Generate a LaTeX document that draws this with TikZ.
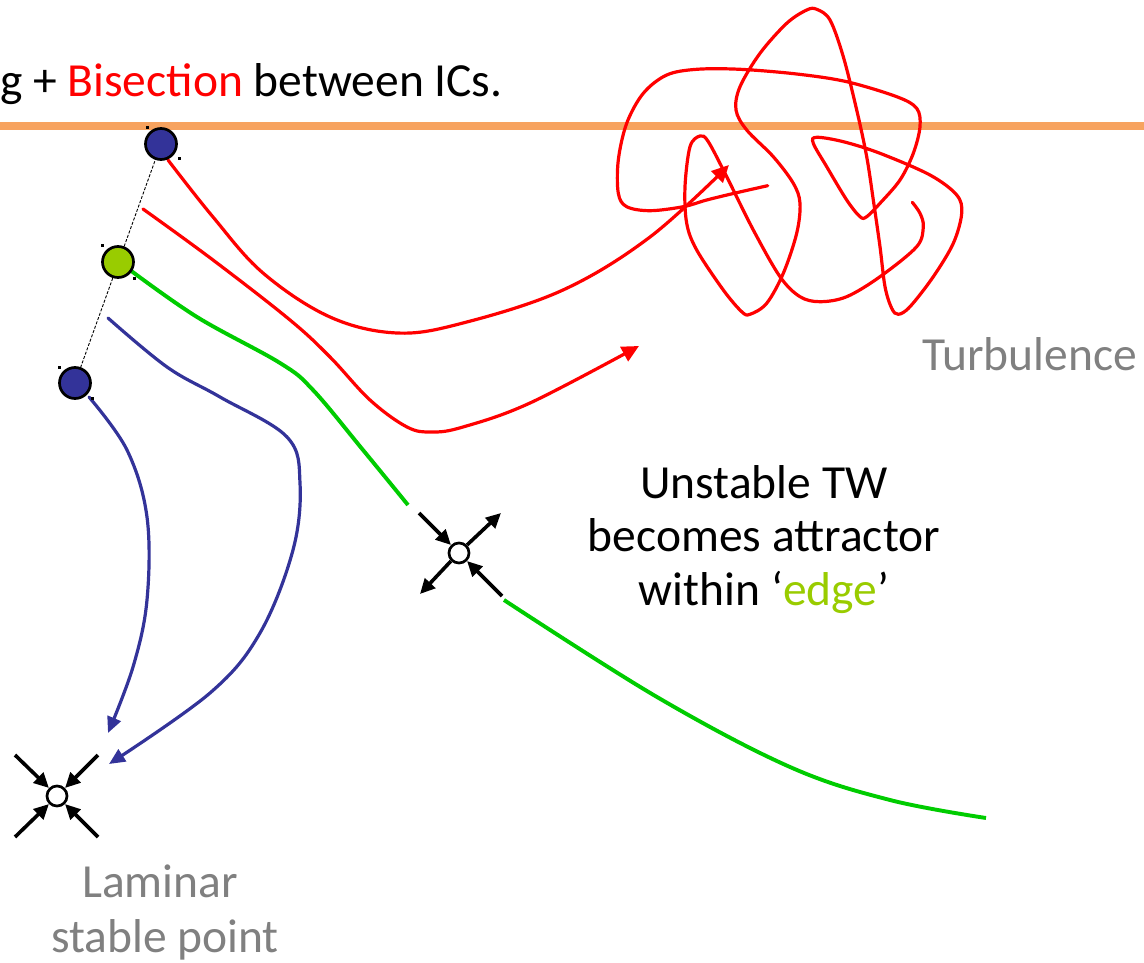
\documentclass[tikz,border=0pt]{standalone}
\usepackage{fontspec}
\setmainfont{Carlito}
\usetikzlibrary{arrows.meta}
\definecolor{icblue}{RGB}{51,51,153}
\definecolor{icgreen}{RGB}{153,204,0}
\definecolor{trajgreen}{RGB}{0,204,0}
\definecolor{orangeline}{RGB}{247,163,95}
\definecolor{labelgray}{RGB}{128,128,128}
\tikzset{
  ic/.style={circle, draw=black, line width=2.7pt, minimum size=31pt, inner sep=0pt},
  fixedpt/.style={circle, draw=black, fill=white, line width=2.7pt, minimum size=20pt, inner sep=0pt},
  traj/.style={line width=3.2pt, line cap=round},
  redtraj/.style={traj, red, -{Triangle[length=17pt,width=16pt]}},
  bluetraj/.style={traj, icblue, -{Triangle[length=16pt,width=14pt]}},
  greentraj/.style={line width=3.9pt, trajgreen},
  manifold/.style={line width=3.6pt, black, -{Triangle[length=15pt,width=14pt]}},
  handle/.style={fill=black, minimum size=3pt, inner sep=0pt},
  bigtext/.style={font=\fontsize{47.5}{56}\selectfont, inner sep=0pt},
}
\begin{document}
\begin{tikzpicture}[x=1pt, y=-1pt]
\useasboundingbox (0,0) rectangle (1144,963);
% orange separator
\coordinate (ol) at (0,126);
\coordinate (or) at (1144,126);
\draw[orangeline, line width=8pt] (ol) -- (or);
% title fragment
\node[bigtext, anchor=base west] (title) at (0,97) {g + \textcolor{red}{Bisection} between ICs.};
% initial conditions
\coordinate (atop) at (161,144);
\coordinate (bmid) at (118,262);
\coordinate (cbot) at (75,383);
\draw[line width=0.9pt, dash pattern=on 3pt off 1.6pt] (atop) -- (cbot);
% turbulence tangle
\draw[red, line width=3.2pt, line cap=round] plot[smooth, tension=0.55] coordinates {
(767.7,185.7) (736.7,192.7) (706.7,200) (683.3,206.7) (650,210.7) (626.7,206.7)
(618.3,193.3) (618.3,160) (626.7,123.3) (643.3,93.3) (666.7,75) (696.7,69.3)
(740,69.3) (796.7,74) (846.7,81.7) (896.7,96.7) (916.7,108.3) (920,126.7)
(913.3,153.3) (900,180) (880,203.3) (866.7,216.7) (860,216.7) (846.7,200)
(826.7,166.7) (813.3,143.3) (816.7,137.3) (843.3,141.7) (880,153.3) (930,175)
(956.7,195) (961.7,213.3) (953.3,243.3) (933.3,276.7) (910,306.7) (898.3,314.3)
(891.7,308.3) (885,286.7) (880,246.7) (873.3,200) (866.7,156.7) (856.7,110)
(843.3,56.7) (830,20) (816.7,9.3) (806.7,10) (786.7,23.3) (760,53.3)
(740,86.7) (736,110) (746.7,130) (773.3,156.7) (793.3,183.3) (800,203.3)
(796.7,233.3) (783.3,273.3) (766.7,303.3) (750,314.3) (741.7,311.7) (723.3,290)
(696.7,250) (686.7,223.3) (685,186.7) (690,146.7) (700,136) (708.3,141.7)
(726.7,176.7) (753.3,230) (780,276.7) (800,296.7) (820,301.7) (846.7,296.7)
(880,276.7) (916.7,246.7) (923.3,226.7) (920,213.3) (912.3,202.3)};
% red trajectories
\coordinate (r1end) at (729,165);
\coordinate (r2start) at (143,209);
\coordinate (r2end) at (639,346);
\draw[redtraj] plot[smooth, tension=0.6] coordinates {(168,160) (213,217) (263,273) (330,317) (397,333) (463,323) (563,290) (650,237) (729,165)};
\draw[redtraj] plot[smooth, tension=0.6] coordinates {(r2start) (213,260) (290,320) (330,357) (370,400) (407,427) (432,432) (463,427) (530,403) (639,346)};
% green (edge) trajectory
\coordinate (g1end) at (408,505);
\coordinate (g2start) at (504,600);
\coordinate (g2end) at (986,818);
\draw[greentraj] plot[smooth, tension=0.6] coordinates {(130,270) (197,317) (280,363) (313,390) (363,450) (g1end)};
\draw[greentraj] plot[smooth, tension=0.6] coordinates {(g2start) (657,697) (790,767) (890,800) (g2end)};
% blue trajectories
\coordinate (b2start) at (108,318);
\draw[bluetraj] plot[smooth, tension=0.6] coordinates {(89,397) (127,450) (147,517) (147,600) (133,667) (108,733)};
\draw[bluetraj] plot[smooth, tension=0.6] coordinates {(b2start) (167,367) (220,397) (287,437) (300,483) (293,550) (260,633) (210,693) (109,764)};
% initial condition dots
\node[ic, fill=icblue] (a) at (atop) {};
\node[ic, fill=icgreen] (b) at (bmid) {};
\node[ic, fill=icblue] (c) at (cbot) {};
\node[handle] (ah1) at (147,128) {};
\node[handle] (ah2) at (179,159) {};
\node[handle] (bh1) at (102,245) {};
\node[handle] (bh2) at (134,278) {};
\node[handle] (ch1) at (59,367) {};
\node[handle] (ch2) at (92,398) {};
% unstable travelling wave (saddle)
\node[fixedpt] (tw) at (459,553) {};
\coordinate (tw1) at (419,513);
\coordinate (tw2) at (501,513);
\coordinate (tw3) at (420,594);
\coordinate (tw4) at (502,596);
\draw[manifold] (tw1) -- (tw.135);
\draw[manifold] (tw.45) -- (tw2);
\draw[manifold] (tw.225) -- (tw3);
\draw[manifold] (tw4) -- (tw.-45);
% laminar stable point
\node[fixedpt] (lam) at (57,796) {};
\coordinate (l1) at (15,755);
\coordinate (l2) at (98,755);
\coordinate (l3) at (15,837);
\coordinate (l4) at (98,837);
\draw[manifold] (l1) -- (lam.135);
\draw[manifold] (l2) -- (lam.45);
\draw[manifold] (l3) -- (lam.225);
\draw[manifold] (l4) -- (lam.-45);
% labels
\node[bigtext, anchor=base] (t1) at (764,498) {Unstable TW};
\node[bigtext, anchor=base] (t2) at (764,551) {becomes attractor};
\node[bigtext, anchor=base] (t3) at (764,605) {within ‘\textcolor{icgreen}{edge}’};
\node[bigtext, anchor=base west, text=labelgray] (turb) at (922,370) {Turbulence};
\node[bigtext, anchor=base, text=labelgray] (lam1) at (160,897) {Laminar};
\node[bigtext, anchor=base, text=labelgray] (lam2) at (165,952) {stable point};
\end{tikzpicture}
\end{document}
